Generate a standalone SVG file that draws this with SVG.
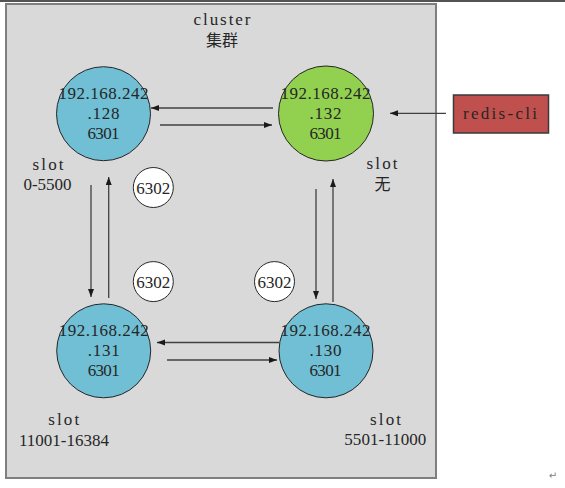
<svg xmlns="http://www.w3.org/2000/svg" width="565" height="488" viewBox="0 0 565 488" font-family="'Liberation Serif', 'DejaVu Serif', serif">
<style>
  .t { font-family: 'Liberation Serif', 'DejaVu Serif', serif; font-size: 17px; fill: #262626; text-anchor: middle; }
  .cjk { font-family: 'Noto Sans CJK SC', sans-serif; font-size: 16px; fill: #262626; text-anchor: middle; }
  .node { stroke: #262626; stroke-width: 1; }
  .blue { fill: #70BFD4; }
  .green { fill: #92D050; }
  .port { fill: #ffffff; stroke: #262626; stroke-width: 1; }
  .conn line { stroke: #404040; stroke-width: 1.3; marker-end: url(#ah); }
</style>
<defs>
  <marker id="ah" markerUnits="userSpaceOnUse" markerWidth="9" markerHeight="7" refX="8" refY="3" orient="auto">
    <path d="M0,0 L8,3 L0,6 z" fill="#1a1a1a"/>
  </marker>
</defs>
<rect x="0" y="0" width="565" height="488" fill="#ffffff"/>
<line x1="0" y1="1" x2="565" y2="1" stroke="#1a1a1a" stroke-width="1.5"/>
<g id="cluster">
  <rect x="6" y="4" width="430" height="474" fill="#D9D9D9" stroke="#7F7F7F" stroke-width="2"/>
  <text class="t" x="222" y="25" textLength="57">cluster</text>
  <text class="cjk" x="222" y="46">集群</text>
</g>
<g id="node128">
  <circle class="node blue" cx="103.5" cy="113.7" r="47"/>
  <text class="t" x="103.5" y="99" textLength="90">192.168.242</text>
  <text class="t" x="103.5" y="119" textLength="32">.128</text>
  <text class="t" x="103.5" y="139" textLength="32">6301</text>
</g>
<g id="node132">
  <circle class="node green" cx="326" cy="113.5" r="47.5"/>
  <text class="t" x="325.5" y="99" textLength="90">192.168.242</text>
  <text class="t" x="325.5" y="119" textLength="32">.132</text>
  <text class="t" x="325.5" y="139" textLength="32">6301</text>
</g>
<g id="node131">
  <circle class="node blue" cx="103.7" cy="350.8" r="47"/>
  <text class="t" x="103.7" y="336" textLength="90">192.168.242</text>
  <text class="t" x="103.7" y="356" textLength="32">.131</text>
  <text class="t" x="103.7" y="376" textLength="32">6301</text>
</g>
<g id="node130">
  <circle class="node blue" cx="326" cy="350.8" r="47"/>
  <text class="t" x="325.5" y="336" textLength="90">192.168.242</text>
  <text class="t" x="325.5" y="356" textLength="32">.130</text>
  <text class="t" x="325.5" y="376" textLength="32">6301</text>
</g>
<g id="port1">
  <circle class="port" cx="153.3" cy="187.5" r="20"/>
  <text class="t" x="153.3" y="193.5" textLength="34">6302</text>
</g>
<g id="port2">
  <circle class="port" cx="153.3" cy="281.6" r="20"/>
  <text class="t" x="153.3" y="287.6" textLength="34">6302</text>
</g>
<g id="port3">
  <circle class="port" cx="274.5" cy="281.6" r="20"/>
  <text class="t" x="274.5" y="287.6" textLength="34">6302</text>
</g>
<g id="rediscli">
  <rect x="453.5" y="95" width="95" height="38" fill="#C0504D" stroke="#3A3A3A" stroke-width="1.5"/>
  <text class="t" x="500" y="119.3" textLength="74">redis-cli</text>
</g>
<g id="slots">
  <text class="t" x="48" y="170" textLength="31">slot</text>
  <text class="t" x="47.5" y="190" textLength="48">0-5500</text>
  <text class="t" x="382" y="169.3" textLength="31">slot</text>
  <text class="cjk" x="382.5" y="190">无</text>
  <text class="t" x="63.7" y="425" textLength="31">slot</text>
  <text class="t" x="64" y="445.5" textLength="90">11001-16384</text>
  <text class="t" x="385.5" y="425" textLength="31">slot</text>
  <text class="t" x="385.3" y="445" textLength="82">5501-11000</text>
</g>
<g id="connectors" class="conn">
  <line x1="273" y1="108" x2="151" y2="108"/>
  <line x1="160" y1="125" x2="272" y2="125"/>
  <line x1="91" y1="185" x2="91" y2="297"/>
  <line x1="108.7" y1="298" x2="108.7" y2="177"/>
  <line x1="316" y1="189" x2="316" y2="299"/>
  <line x1="333" y1="302" x2="333" y2="179"/>
  <line x1="279" y1="342.5" x2="157" y2="342.5"/>
  <line x1="167" y1="360" x2="277" y2="360"/>
  <line x1="446" y1="113.3" x2="390" y2="113.3"/>
</g>
<text x="553" y="479" style="font-family:'DejaVu Sans',sans-serif; font-size:10px; fill:#808080; text-anchor:middle;">↵</text>
</svg>
